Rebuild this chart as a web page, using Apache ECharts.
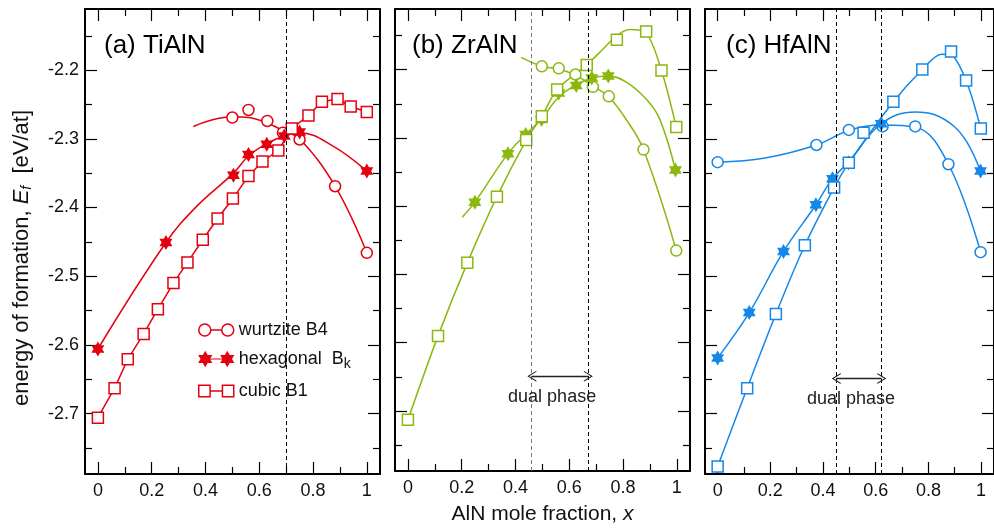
<!DOCTYPE html>
<html>
<head>
<meta charset="utf-8">
<script src="https://cdn.jsdelivr.net/npm/echarts@6/dist/echarts.min.js"></script>
<style>
  html, body { margin: 0; padding: 0; background: #fff; }
  #chart { width: 994px; height: 530px; }
</style>
</head>
<body>
<div id="chart"></div>
<script>
// ticks
const xMajor = [0, 0.2, 0.4, 0.6, 0.8, 1];
const xMinor = [0.1, 0.3, 0.5, 0.7, 0.9];
const yMajor = [-2.7, -2.6, -2.5, -2.4, -2.3, -2.2];
const yMinor = [-2.75, -2.65, -2.55, -2.45, -2.35, -2.25, -2.15];

// (a) TiAlN   [x, Ef]
const tiWz = [[0.50,-2.269],[0.56,-2.258],[0.63,-2.274],[0.688,-2.291],[0.75,-2.301],[0.882,-2.369],[1.0,-2.466]];
const tiWzFit = [[0.355,-2.282],[0.43,-2.272],[0.502,-2.268],[0.56,-2.269],[0.63,-2.277],[0.688,-2.288],[0.75,-2.300],[0.882,-2.369],[1.0,-2.466]];
const tiHex = [[0,-2.606],[0.253,-2.451],[0.504,-2.353],[0.56,-2.323],[0.628,-2.308],[0.693,-2.296],[0.75,-2.290],[1.0,-2.347]];
const tiHexFit = [[0,-2.606],[0.253,-2.451],[0.368,-2.398],[0.504,-2.350],[0.56,-2.325],[0.628,-2.307],[0.693,-2.296],[0.75,-2.291],[0.876,-2.311],[1.0,-2.347]];
const tiCub = [[0,-2.706],[0.062,-2.663],[0.111,-2.621],[0.170,-2.584],[0.223,-2.548],[0.281,-2.510],[0.333,-2.480],[0.390,-2.447],[0.445,-2.416],[0.502,-2.387],[0.560,-2.354],[0.612,-2.333],[0.671,-2.317],[0.721,-2.285],[0.783,-2.266],[0.833,-2.246],[0.891,-2.242],[0.940,-2.253],[1.0,-2.261]];

// (b) ZrAlN
const zrWz = [[0.498,-2.195],[0.561,-2.198],[0.623,-2.207],[0.688,-2.225],[0.747,-2.239],[0.876,-2.317],[0.998,-2.465]];
const zrWzFit = [[0.421,-2.182],[0.498,-2.195],[0.561,-2.199],[0.623,-2.208],[0.688,-2.224],[0.747,-2.240],[0.812,-2.273],[0.876,-2.317],[0.998,-2.465]];
const zrHex = [[0.249,-2.394],[0.372,-2.323],[0.438,-2.295],[0.497,-2.273],[0.561,-2.234],[0.626,-2.223],[0.684,-2.212],[0.745,-2.209],[0.995,-2.347]];
const zrHexFit = [[0.202,-2.416],[0.249,-2.394],[0.372,-2.323],[0.438,-2.295],[0.497,-2.272],[0.561,-2.240],[0.626,-2.222],[0.684,-2.212],[0.745,-2.209],[0.812,-2.218],[0.886,-2.243],[0.936,-2.272],[0.995,-2.347]];
const zrCub = [[0,-2.713],[0.112,-2.590],[0.221,-2.483],[0.331,-2.386],[0.44,-2.303],[0.498,-2.268],[0.555,-2.229],[0.665,-2.193],[0.777,-2.156],[0.886,-2.144],[0.943,-2.201],[0.998,-2.284]];
const zrCubFit = [[0,-2.713],[0.112,-2.590],[0.221,-2.483],[0.331,-2.386],[0.44,-2.303],[0.498,-2.268],[0.555,-2.229],[0.665,-2.193],[0.725,-2.170],[0.777,-2.150],[0.824,-2.141],[0.886,-2.146],[0.943,-2.201],[0.998,-2.284]];

// (c) HfAlN
const hfWz = [[0,-2.334],[0.375,-2.309],[0.498,-2.287],[0.626,-2.282],[0.75,-2.282],[0.876,-2.337],[0.998,-2.465]];
const hfWzFit = [[0,-2.334],[0.18,-2.328],[0.375,-2.309],[0.498,-2.288],[0.626,-2.280],[0.75,-2.283],[0.876,-2.337],[0.998,-2.465]];
const hfHex = [[0,-2.619],[0.12,-2.553],[0.25,-2.464],[0.373,-2.396],[0.436,-2.358],[0.497,-2.335],[0.621,-2.278],[0.998,-2.347]];
const hfHexFit = [[0,-2.619],[0.12,-2.553],[0.25,-2.464],[0.373,-2.396],[0.436,-2.358],[0.497,-2.334],[0.621,-2.278],[0.75,-2.261],[0.824,-2.265],[0.898,-2.282],[0.948,-2.306],[0.998,-2.347]];
const hfCub = [[0,-2.777],[0.112,-2.663],[0.221,-2.555],[0.331,-2.455],[0.442,-2.371],[0.498,-2.335],[0.554,-2.291],[0.667,-2.246],[0.777,-2.199],[0.886,-2.173],[0.943,-2.215],[0.999,-2.285]];
const hfCubFit = [[0,-2.777],[0.112,-2.663],[0.221,-2.555],[0.331,-2.455],[0.442,-2.371],[0.498,-2.335],[0.667,-2.246],[0.777,-2.199],[0.849,-2.177],[0.886,-2.178],[0.943,-2.215],[0.999,-2.285]];

// phase boundaries / dual phase arrow
const tiBound = [0.703];
const zrBound = [0.461, 0.671];
const hfBound = [0.45, 0.623];
const dualY = -2.649;

const RED = '#e3000f', GREEN = '#8ab80f', BLUE = '#1487e8';
const FONT = 'Liberation Sans, Arial, Helvetica, sans-serif';
const X_MIN = -0.048, X_MAX = 1.049, Y_MIN = -2.788, Y_MAX = -2.111;

const STAR = 'path://M100,0 L128.87,50 L186.6,50 L157.7,100 L186.6,150 L128.87,150 L100,200 L71.13,150 L13.4,150 L42.3,100 L13.4,50 L71.13,50 Z';
const LEG_CIRCLE = 'path://M0,6A6,6,0,1,1,12,6A6,6,0,1,1,0,6Z M12,6L23,6 M23,6A6,6,0,1,1,35,6A6,6,0,1,1,23,6Z';
const LEG_SQUARE = 'path://M0.5,0.5L11.5,0.5L11.5,11.5L0.5,11.5Z M11.5,6L23.5,6 M23.5,0.5L34.5,0.5L34.5,11.5L23.5,11.5Z';
const LEG_STAR = 'path://M6.06,0L8.08,3.5L12.12,3.5L10.1,7L12.12,10.5L8.08,10.5L6.06,14L4.04,10.5L0,10.5L2.02,7L0,3.5L4.04,3.5Z M10.1,7L24.02,7 M28.06,0L30.08,3.5L34.12,3.5L32.1,7L34.12,10.5L30.08,10.5L28.06,14L26.04,10.5L22,10.5L24.02,7L22,3.5L26.04,3.5Z';
const CHEV = 'path://M5.5,0L11,9L9.8,9L5.5,2L1.2,9L0,9Z';

var chart = echarts.init(document.getElementById('chart'));

const grids = [
  {left: 85, top: 9, width: 295, height: 465},
  {left: 395, top: 9, width: 295, height: 465},
  {left: 705, top: 9, width: 295, height: 465}
];

let xAxes = [], yAxes = [];
grids.forEach((g, gi) => {
  const tick = {color: '#000', width: 1.2};
  const frame = {show: true, onZero: false, lineStyle: {color: '#000', width: 2}};
  ['bottom', 'top'].forEach(pos => {
    xAxes.push({type: 'value', gridIndex: gi, position: pos, min: X_MIN, max: X_MAX,
      splitLine: {show: false}, axisLine: frame,
      axisTick: {inside: true, length: 12, customValues: xMajor, lineStyle: tick},
      axisLabel: {show: pos === 'bottom', customValues: xMajor, fontSize: 18, color: '#111', margin: 8, fontFamily: FONT},
      name: (gi === 1 && pos === 'bottom') ? 'AlN mole fraction, {i|x}' : '',
      nameLocation: 'middle', nameGap: 33,
      nameTextStyle: {fontSize: 21, color: '#111', fontFamily: FONT, rich: {i: {fontSize: 21, fontStyle: 'italic', fontFamily: FONT}}}
    });
    xAxes.push({type: 'value', gridIndex: gi, position: pos, min: X_MIN, max: X_MAX,
      splitLine: {show: false}, axisLine: {show: false, onZero: false},
      axisTick: {inside: true, length: 7, customValues: xMinor, lineStyle: tick},
      axisLabel: {show: false}
    });
  });
  ['left', 'right'].forEach(pos => {
    yAxes.push({type: 'value', gridIndex: gi, position: pos, min: Y_MIN, max: Y_MAX,
      splitLine: {show: false}, axisLine: frame,
      axisTick: {inside: true, length: 12, customValues: yMajor, lineStyle: tick},
      axisLabel: {show: gi === 0 && pos === 'left', customValues: yMajor, fontSize: 18, color: '#111', margin: 6, fontFamily: FONT}
    });
    yAxes.push({type: 'value', gridIndex: gi, position: pos, min: Y_MIN, max: Y_MAX,
      splitLine: {show: false}, axisLine: {show: false, onZero: false},
      axisTick: {inside: true, length: 7, customValues: yMinor, lineStyle: tick},
      axisLabel: {show: false}
    });
  });
});

function fit(data, color, gi, smooth, extra) {
  return Object.assign({
    type: 'line', name: 'fit', xAxisIndex: gi * 4, yAxisIndex: gi * 4,
    data: data, smooth: smooth, symbol: 'none', silent: true, z: 2,
    lineStyle: {color: color, width: 1.5}
  }, extra || {});
}
function marks(name, data, color, gi, kind) {
  const s = {type: 'scatter', name: name, xAxisIndex: gi * 4, yAxisIndex: gi * 4, data: data, z: 3, silent: true};
  if (kind === 'star') {
    s.symbol = STAR; s.symbolSize = 15; s.symbolKeepAspect = true;
    s.itemStyle = {color: color, opacity: 1};
  } else {
    s.symbol = kind === 'circle' ? 'circle' : 'rect';
    s.symbolSize = 11;
    s.itemStyle = {color: '#fff', borderColor: color, borderWidth: 1.5, opacity: 1};
  }
  return s;
}
function bounds(xs, first) {
  return {silent: true, symbol: 'none', label: {show: false},
    lineStyle: {type: [4, 3], color: '#000', width: 1},
    data: xs.map((v, i) => (i === 0 && first) ? {xAxis: v, lineStyle: {color: first, type: [4, 3], width: 1}} : {xAxis: v})};
}
function arrow(xs) {
  return {silent: true, symbol: [CHEV, CHEV], symbolSize: [11, 9],
    lineStyle: {type: 'solid', color: '#222', width: 1.3},
    label: {show: true, formatter: 'dual phase', position: 'insideMiddleBottom', distance: 12,
      fontSize: 18, color: '#222', fontFamily: FONT, padding: [0, 16, 0, 0]},
    data: [[{coord: [xs[0], dualY]}, {coord: [xs[1], dualY]}]]};
}

const series = [
  fit(tiWzFit, RED, 0, 0.4, {markLine: bounds(tiBound)}),
  fit(tiHexFit, RED, 0, 0.4),
  fit(tiCub, RED, 0, false),
  marks('wurtzite B4', tiWz, RED, 0, 'circle'),
  marks('hexagonal', tiHex, RED, 0, 'star'),
  marks('cubic B1', tiCub, RED, 0, 'square'),

  fit(zrWzFit, GREEN, 1, 0.4, {markLine: bounds(zrBound, '#777')}),
  fit(zrHexFit, GREEN, 1, 0.4),
  fit(zrCubFit, GREEN, 1, 0.3, {markLine: arrow(zrBound)}),
  marks('wurtzite B4', zrWz, GREEN, 1, 'circle'),
  marks('hexagonal', zrHex, GREEN, 1, 'star'),
  marks('cubic B1', zrCub, GREEN, 1, 'square'),

  fit(hfWzFit, BLUE, 2, 0.4, {markLine: bounds(hfBound)}),
  fit(hfHexFit, BLUE, 2, 0.4),
  fit(hfCubFit, BLUE, 2, 0.3, {markLine: arrow(hfBound)}),
  marks('wurtzite B4', hfWz, BLUE, 2, 'circle'),
  marks('hexagonal', hfHex, BLUE, 2, 'star'),
  marks('cubic B1', hfCub, BLUE, 2, 'square')
];

const titleStyle = {fontSize: 26, fontWeight: 'normal', color: '#000', fontFamily: FONT};

const option = {
  animation: false,
  backgroundColor: '#fff',
  textStyle: {fontFamily: FONT},
  title: [
    {text: '(a) TiAlN', left: 104, top: 33, padding: 0, textStyle: titleStyle},
    {text: '(b) ZrAlN', left: 412, top: 33, padding: 0, textStyle: titleStyle},
    {text: '(c) HfAlN', left: 726, top: 33, padding: 0, textStyle: titleStyle}
  ],
  legend: {
    orient: 'vertical', left: 193, top: 303, padding: [18, 8, 6, 5],
    backgroundColor: '#fff', itemWidth: 35, itemHeight: 14, itemGap: 11,
    selectedMode: false,
    data: [
      {name: 'wurtzite B4', icon: LEG_CIRCLE, itemStyle: {color: '#fff', borderColor: RED, borderWidth: 1.5}},
      {name: 'hexagonal', icon: LEG_STAR, itemStyle: {color: RED, borderColor: RED, borderWidth: 1.2}},
      {name: 'cubic B1', icon: LEG_SQUARE, itemStyle: {color: '#fff', borderColor: RED, borderWidth: 1.5}}
    ],
    formatter: function (n) { return n === 'hexagonal' ? 'hexagonal  B{s|k}' : n; },
    textStyle: {fontSize: 18, color: '#111', fontFamily: FONT,
      rich: {s: {fontSize: 14, fontFamily: FONT, color: '#111', padding: [10, 0, 0, 0]}}}
  },
  graphic: [{
    type: 'text', x: 22, y: 258, rotation: Math.PI / 2,
    style: {
      text: 'energy of formation, {i|E}{s|f}  [eV/at]',
      fontSize: 22, fontFamily: FONT, fill: '#111', align: 'center', verticalAlign: 'middle',
      rich: {
        i: {fontSize: 22, fontStyle: 'italic', fontFamily: FONT, fill: '#111'},
        s: {fontSize: 14, fontStyle: 'italic', fontFamily: FONT, fill: '#111', padding: [10, 0, 0, 0]}
      }
    }
  }],
  grid: grids,
  xAxis: xAxes,
  yAxis: yAxes,
  series: series
};

chart.setOption(option);
window.addEventListener('resize', function () {
  chart.resize();
});
</script>
</body>
</html>
